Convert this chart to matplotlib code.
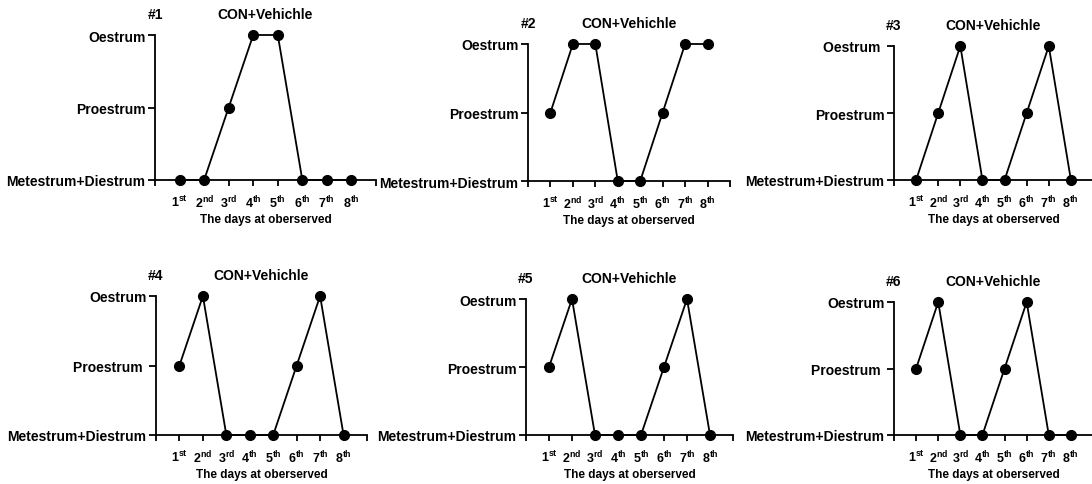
import matplotlib
matplotlib.use('Agg')
import matplotlib.pyplot as plt

plt.rcParams['font.family'] = ['Liberation Sans', 'DejaVu Sans']
plt.rcParams['font.weight'] = 'bold'
plt.rcParams['mathtext.fontset'] = 'custom'
plt.rcParams['mathtext.rm'] = 'Liberation Sans:bold'
plt.rcParams['mathtext.it'] = 'Liberation Sans:bold'
plt.rcParams['mathtext.bf'] = 'Liberation Sans:bold'

# Data: 0 = Metestrum+Diestrum, 1 = Proestrum, 2 = Oestrum
days = [1, 2, 3, 4, 5, 6, 7, 8]
day_labels = [r'$\mathbf{1^{st}}$', r'$\mathbf{2^{nd}}$', r'$\mathbf{3^{rd}}$',
              r'$\mathbf{4^{th}}$', r'$\mathbf{5^{th}}$', r'$\mathbf{6^{th}}$',
              r'$\mathbf{7^{th}}$', r'$\mathbf{8^{th}}$']
stage_names = ['Metestrum+Diestrum', 'Proestrum', 'Oestrum']
# some panels in the original have a trailing space in the label
stage_names_3 = ['Metestrum+Diestrum', 'Proestrum', 'Oestrum ']
stage_names_4 = ['Metestrum+Diestrum', 'Proestrum ', 'Oestrum']
stage_names_6 = ['Metestrum+Diestrum', 'Proestrum ', 'Oestrum']
panel_stage_names = [stage_names, stage_names, stage_names_3,
                     stage_names_4, stage_names, stage_names_6]
mouse_ids = ['#1', '#2', '#3', '#4', '#5', '#6']
stages_1 = [0, 0, 1, 2, 2, 0, 0, 0]
stages_2 = [1, 2, 2, 0, 0, 1, 2, 2]
stages_3 = [0, 1, 2, 0, 0, 1, 2, 0]
stages_4 = [1, 2, 0, 0, 0, 1, 2, 0]
stages_5 = [1, 2, 0, 0, 0, 1, 2, 0]
stages_6 = [1, 2, 0, 0, 1, 2, 0, 0]
all_stages = [stages_1, stages_2, stages_3, stages_4, stages_5, stages_6]
title = 'CON+Vehichle'
xlabel = 'The days at oberserved'

# axes boxes in pixels: left, right, top, bottom
W, H = 1092, 485
boxes = [(155, 376, 36, 181), (528, 730, 45, 182), (894, 1093, 47, 181),
         (156, 367, 297, 436), (526, 733, 300, 436), (894, 1093, 303, 436)]

fig = plt.figure(figsize=(W / 100, H / 100), dpi=100)

for i, (l, r, t, b) in enumerate(boxes):
    ax = fig.add_axes([l / W, 1 - b / H, (r - l) / W, (b - t) / H])
    ax.plot(days, all_stages[i], color='black', lw=1.3, marker='o',
            ms=7, clip_on=False, zorder=3)
    ax.set_xlim(0, 9)
    ax.set_ylim(0, 2)
    ax.set_xticks(range(10))
    ax.set_xticklabels([''] + day_labels + [''])
    ax.set_yticks([0, 1, 2])
    ax.set_yticklabels(panel_stage_names[i], fontsize=10, fontweight='bold')
    ax.tick_params(axis='x', labelsize=9, length=4, width=1.3, pad=6)
    ax.tick_params(axis='y', length=5, width=1.3, pad=2)
    for s in ['top', 'right']:
        ax.spines[s].set_visible(False)
    for s in ['left', 'bottom']:
        ax.spines[s].set_linewidth(1.3)
    ax.set_xlabel(xlabel, fontsize=8.5, fontweight='bold', labelpad=2)
    ax.text(0.5, 1.0 + 14 / (b - t), title, transform=ax.transAxes,
            ha='center', va='bottom', fontsize=10, fontweight='bold')
    ax.text(0.0, 1.0 + 14 / (b - t), mouse_ids[i], transform=ax.transAxes,
            ha='center', va='bottom', fontsize=10, fontweight='bold')

fig.savefig('out.png', dpi=100)
